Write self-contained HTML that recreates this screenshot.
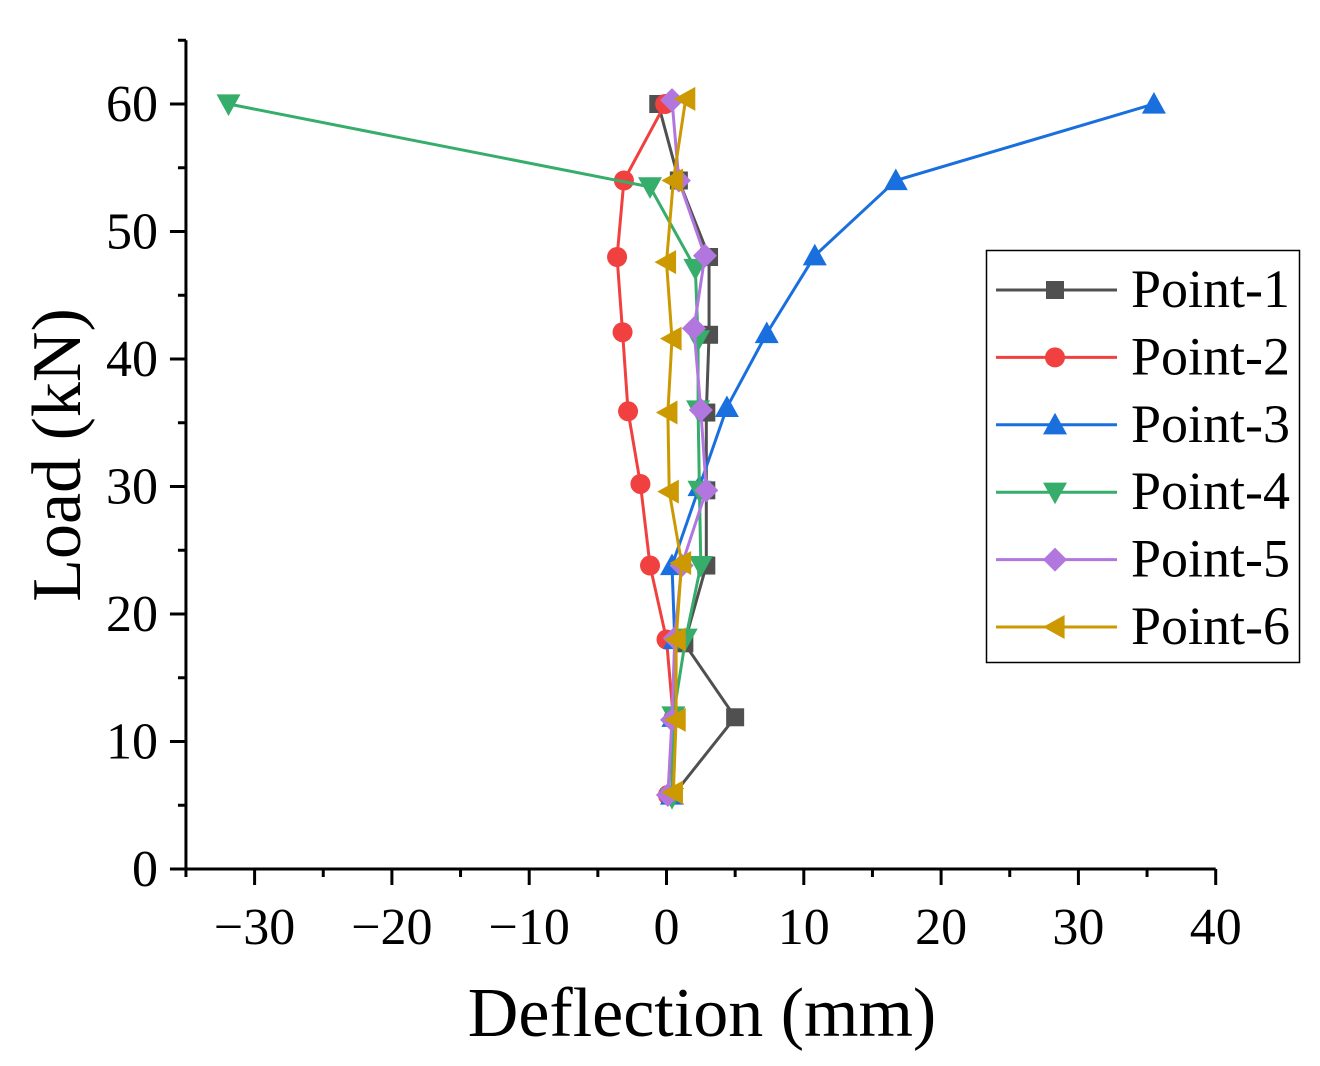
<!DOCTYPE html>
<html><head><meta charset="utf-8"><style>
body{margin:0;background:#fff}
svg{display:block;font-family:"Liberation Serif",serif}
</style></head><body>
<svg id="chart" width="1320" height="1066"></svg>
<script>
const loads=[6,12,18,24,30,36,42,48,54,60];
const seriesNames=["Point-1","Point-2","Point-3","Point-4","Point-5","Point-6"];
const p1x=[0.5,5.0,1.3,2.9,2.9,2.9,3.1,3.1,0.9,-0.6];
const p1y=[5.8,11.9,17.7,23.8,29.7,35.8,41.9,48,54,60];
const p2x=[0.1,0.5,0,-1.2,-1.9,-2.8,-3.2,-3.6,-3.1,-0.1];
const p2y=[5.8,11.8,18,23.8,30.2,35.9,42.1,48,54,60];
const p3x=[0.4,0.5,0.6,0.4,2.4,4.4,7.3,10.8,16.7,35.5];
const p3y=[5.8,11.9,18,23.8,30,36.2,42,48.1,54,60];
const p4x=[0.4,0.5,1.4,2.5,2.4,2.3,2.3,2.1,-1.2,-31.9];
const p4y=[5.6,12,18.1,23.8,29.7,36,41.5,47.1,53.5,60];
const p5x=[0.1,0.4,0.6,1.1,2.9,2.5,2.0,2.8,0.9,0.4];
const p5y=[5.8,11.7,18.1,23.8,29.7,36,42.4,48.1,54,60.3];
const p6x=[0.5,0.7,0.7,1.1,0.2,0.1,0.4,0,0.5,1.4];
const p6y=[6,11.7,18,24,29.6,35.8,41.6,47.6,54,60.4];
const xTicks=[-30,-20,-10,0,10,20,30,40];
const yTicks=[0,10,20,30,40,50,60];
const colors=["#505050","#f04040","#1a6fdf","#37ad6b","#b177de","#cc9900"];
const markers=["square","circle","up","down","diamond","left"];

const NS="http://www.w3.org/2000/svg";
const svg=document.getElementById('chart');
const X=v=>666.5+(v)*13.73;
const Y=v=>869-v*12.75;
function el(t,a,p){const e=document.createElementNS(NS,t);for(const k in a)e.setAttribute(k,a[k]);(p||svg).appendChild(e);return e;}

const ax=el('g',{});


el('line',{x1:X(-35),y1:869,x2:X(40),y2:869,stroke:'#000','stroke-width':3},ax);
el('line',{x1:X(-35),y1:869,x2:X(-35),y2:Y(65),stroke:'#000','stroke-width':3},ax);
for(let v=-35;v<=40;v+=5){const maj=v%10===0;el('line',{x1:X(v),y1:869,x2:X(v),y2:869+(maj?16:8),stroke:'#000','stroke-width':3},ax);}
for(let v=0;v<=65;v+=5){const maj=v%10===0;el('line',{x1:X(-35),y1:Y(v),x2:X(-35)-(maj?16:8),y2:Y(v),stroke:'#000','stroke-width':3},ax);}
xTicks.forEach(v=>{const t=el('text',{x:X(v),y:944,'font-size':52,'text-anchor':'middle'},ax);t.textContent=v<0?'\u2212'+(-v):String(v);

});
yTicks.forEach(v=>{const t=el('text',{x:158,y:Y(v)+17,'font-size':52,'text-anchor':'end'},ax);t.textContent=String(v);

});
const xt=el('text',{x:702,y:1036,'font-size':70,'text-anchor':'middle'});xt.textContent='Deflection (mm)';


const yt=el('text',{x:80,y:455,'font-size':70,'text-anchor':'middle',transform:'rotate(-90 80 455)'});yt.textContent='Load (kN)';



function marker(type,cx,cy,c,p){
  const s=9;let e;
  if(type==='square')e=el('rect',{x:cx-s,y:cy-s,width:2*s,height:2*s,fill:c},p);
  else if(type==='circle')e=el('circle',{cx,cy,r:10,fill:c},p);
  else{let pts;const r=12;
    if(type==='up')pts=[[cx,cy-r],[cx+r,cy+r*0.8],[cx-r,cy+r*0.8]];
    if(type==='down')pts=[[cx,cy+r],[cx+r,cy-r*0.8],[cx-r,cy-r*0.8]];
    if(type==='left')pts=[[cx-r,cy],[cx+r*0.8,cy-r],[cx+r*0.8,cy+r]];
    if(type==='diamond')pts=[[cx,cy-r],[cx+r,cy],[cx,cy+r],[cx-r,cy]];
    e=el('polygon',{points:pts.map(q=>q.join(',')).join(' '),fill:c},p);}
  return e;
}
const xs=[p1x,p2x,p3x,p4x,p5x,p6x], ys=[p1y,p2y,p3y,p4y,p5y,p6y];
xs.forEach((sx,i)=>{
  const g=el('g',{});
  
  
  el('polyline',{points:sx.map((v,j)=>X(v)+','+Y(ys[i][j])).join(' '),fill:'none',stroke:colors[i],'stroke-width':3},g);
  sx.forEach((v,j)=>{const m=marker(markers[i],X(v),Y(ys[i][j]),colors[i],g);
    
    });
});
const lg=el('g',{});


el('rect',{x:986.5,y:250.5,width:313,height:412,fill:'#fff',stroke:'#000','stroke-width':1.5},lg);
seriesNames.forEach((n,i)=>{
  const yy=290+i*67.4;
  const g=el('g',{},lg);
  
  
  el('line',{x1:996,y1:yy,x2:1117,y2:yy,stroke:colors[i],'stroke-width':3},g);
  marker(markers[i],1055,yy,colors[i],g);
  const t=el('text',{x:1131,y:yy+17,'font-size':54},g);t.textContent=n;
});
</script>
</body></html>
